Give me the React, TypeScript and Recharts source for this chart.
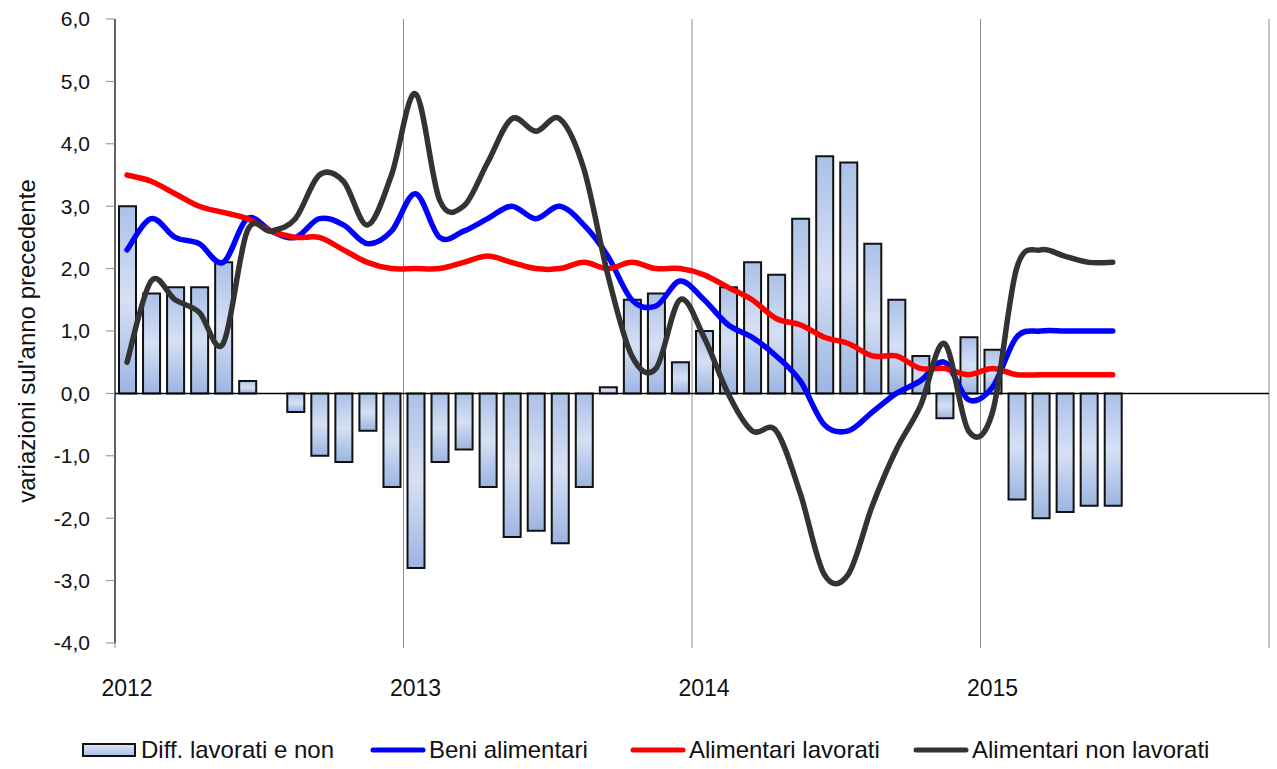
import React from 'react';
import { Bar, CartesianGrid, ComposedChart, Legend, Line, ReferenceLine, XAxis, YAxis } from 'recharts';

// mesi da gennaio 2012 a giugno 2015
const months = [
  'gen 12', 'feb 12', 'mar 12', 'apr 12', 'mag 12', 'giu 12', 'lug 12', 'ago 12', 'set 12', 'ott 12', 'nov 12', 'dic 12',
  'gen 13', 'feb 13', 'mar 13', 'apr 13', 'mag 13', 'giu 13', 'lug 13', 'ago 13', 'set 13', 'ott 13', 'nov 13', 'dic 13',
  'gen 14', 'feb 14', 'mar 14', 'apr 14', 'mag 14', 'giu 14', 'lug 14', 'ago 14', 'set 14', 'ott 14', 'nov 14', 'dic 14',
  'gen 15', 'feb 15', 'mar 15', 'apr 15', 'mag 15', 'giu 15',
];

const diffLavoratiNon = [
  3.0, 1.6, 1.7, 1.7, 2.1, 0.2, 0.0, -0.3, -1.0, -1.1, -0.6, -1.5,
  -2.8, -1.1, -0.9, -1.5, -2.3, -2.2, -2.4, -1.5, 0.1, 1.5, 1.6, 0.5,
  1.0, 1.7, 2.1, 1.9, 2.8, 3.8, 3.7, 2.4, 1.5, 0.6, -0.4, 0.9,
  0.7, -1.7, -2.0, -1.9, -1.8, -1.8,
];

const beniAlimentari = [
  2.3, 2.8, 2.5, 2.4, 2.1, 2.8, 2.6, 2.5, 2.8, 2.7, 2.4, 2.6,
  3.2, 2.5, 2.6, 2.8, 3.0, 2.8, 3.0, 2.7, 2.2, 1.5, 1.4, 1.8,
  1.5, 1.1, 0.9, 0.6, 0.2, -0.5, -0.6, -0.3, 0.0, 0.2, 0.5, -0.1,
  0.1, 0.9, 1.0, 1.0, 1.0, 1.0,
];

const alimentariLavorati = [
  3.5, 3.4, 3.2, 3.0, 2.9, 2.8, 2.6, 2.5, 2.5, 2.3, 2.1, 2.0,
  2.0, 2.0, 2.1, 2.2, 2.1, 2.0, 2.0, 2.1, 2.0, 2.1, 2.0, 2.0,
  1.9, 1.7, 1.5, 1.2, 1.1, 0.9, 0.8, 0.6, 0.6, 0.4, 0.4, 0.3,
  0.4, 0.3, 0.3, 0.3, 0.3, 0.3,
];

const alimentariNonLavorati = [
  0.5, 1.8, 1.5, 1.3, 0.8, 2.6, 2.6, 2.8, 3.5, 3.4, 2.7, 3.5,
  4.8, 3.1, 3.0, 3.7, 4.4, 4.2, 4.4, 3.6, 1.9, 0.6, 0.4, 1.5,
  0.9, 0.0, -0.6, -0.6, -1.6, -2.9, -2.9, -1.8, -0.9, -0.2, 0.8, -0.6,
  -0.3, 2.0, 2.3, 2.2, 2.1, 2.1,
];

const yearTicks = [0, 12, 24, 36, 48];
const yearLabels = ['2012', '2013', '2014', '2015'];
const valueTicks = [-4, -3, -2, -1, 0, 1, 2, 3, 4, 5, 6];

const data = months.map((month, i) => ({
   month,
   pos: i + 0.5,
   diff: diffLavoratiNon[i],
   beni: beniAlimentari[i],
   lav: alimentariLavorati[i],
   nonLav: alimentariNonLavorati[i],
}));

const FONT = "'Liberation Sans', Arial, sans-serif";

// linea "smussata" come in Excel (spline di Catmull-Rom passante per i punti)
const smoothCurve = (context: any) => {
   let pts: number[][] = [];
   return {
      areaStart() {},
      areaEnd() {},
      lineStart() {
         pts = [];
      },
      point(x: number, y: number) {
         pts.push([+x, +y]);
      },
      lineEnd() {
         if (!pts.length) return;
         context.moveTo(pts[0][0], pts[0][1]);
         for (let i = 0; i < pts.length - 1; i++) {
            const p0 = pts[i - 1] || pts[i];
            const p1 = pts[i];
            const p2 = pts[i + 1];
            const p3 = pts[i + 2] || p2;
            context.bezierCurveTo(
               p1[0] + (p2[0] - p0[0]) / 6,
               p1[1] + (p2[1] - p0[1]) / 6,
               p2[0] - (p3[0] - p1[0]) / 6,
               p2[1] - (p3[1] - p1[1]) / 6,
               p2[0],
               p2[1],
            );
         }
      },
   };
};

const YearTick = (props: any) => {
   const { x, y, index, width } = props;
   const label = yearLabels[index];
   if (!label) return <g />;
   const half = (width || 1154) / 48 / 2;
   return (
      <text x={x + half} y={y} dy="0.71em" textAnchor="middle" fontSize={23} fill="#111">
         {label}
      </text>
   );
};

const YLabel = (props: any) => {
   const vb = props.viewBox || { x: 0, y: 19, width: 115, height: 624 };
   const cx = vb.x + 26;
   const cy = vb.y + vb.height / 2 + 10;
   return (
      <text x={cx} y={cy} transform={`rotate(-90, ${cx}, ${cy})`} textAnchor="middle" dominantBaseline="central" fontSize={24} fill="#111">
         variazioni sul'anno precedente
      </text>
   );
};

const legendItems = [
   { label: 'Diff. lavorati e non', color: '', left: 82 },
   { label: 'Beni alimentari', color: '#0000ff', left: 370 },
   { label: 'Alimentari lavorati', color: '#ff0000', left: 630 },
   { label: 'Alimentari non lavorati', color: '#333333', left: 913 },
];

const renderLegend = () => (
   <div style={{ position: 'relative', height: 40, fontFamily: FONT, fontSize: 24, color: '#111' }}>
      {legendItems.map((item) => (
         <div key={item.label} style={{ position: 'absolute', left: item.left, top: 9, height: 24, display: 'flex', alignItems: 'center', whiteSpace: 'nowrap' }}>
            {item.color ? (
               <svg width={56} height={10} style={{ marginRight: 3 }}>
                  <line x1={3} y1={5} x2={53} y2={5} stroke={item.color} strokeWidth={5} strokeLinecap="round" />
               </svg>
            ) : (
               <svg width={54} height={14} style={{ marginRight: 5 }}>
                  <defs>
                     <linearGradient id="legendFill" x1="0" y1="0" x2="0" y2="1">
                        <stop offset="0%" stopColor="#dfe7f5" />
                        <stop offset="100%" stopColor="#a9c0e8" />
                     </linearGradient>
                  </defs>
                  <rect x={1} y={1} width={52} height={12} fill="url(#legendFill)" stroke="#111" strokeWidth={2} />
               </svg>
            )}
            <span>{item.label}</span>
         </div>
      ))}
   </div>
);

const App: React.FC = () => {
   return (
      <div style={{ position: 'absolute', left: 0, top: 0, width: 1277, height: 769, background: '#fff', fontFamily: FONT }}>
         <ComposedChart width={1277} height={769} data={data} margin={{ top: 19, right: 8, bottom: 0, left: 0 }}>
            <defs>
               <linearGradient id="barFill" x1="0" y1="0" x2="0" y2="1">
                  <stop offset="0%" stopColor="#abc1e8" />
                  <stop offset="50%" stopColor="#d6e0f3" />
                  <stop offset="100%" stopColor="#9bb5e2" />
               </linearGradient>
            </defs>

            <CartesianGrid horizontal={false} stroke="#8c8c8c" />

            <XAxis
               type="number"
               dataKey="pos"
               domain={[0, 48]}
               ticks={yearTicks}
               interval={0}
               axisLine={false}
               tickLine={{ stroke: '#8c8c8c' }}
               tickSize={5}
               tickMargin={32}
               tick={<YearTick />}
               height={86}
               allowDataOverflow
            />

            <YAxis
               type="number"
               domain={[-4, 6]}
               ticks={valueTicks}
               interval={0}
               width={115}
               tickSize={9}
               tickMargin={16}
               axisLine={{ stroke: '#000' }}
               tickLine={{ stroke: '#8c8c8c' }}
               tick={{ fontSize: 21, fill: '#111' }}
               tickFormatter={(v: number) => v.toFixed(1).replace('.', ',')}
               label={{ content: YLabel }}
               allowDataOverflow
            />

            <ReferenceLine y={0} stroke="#000" strokeWidth={1.5} />

            <Bar dataKey="diff" barSize={17} fill="url(#barFill)" stroke="#111" strokeWidth={2} isAnimationActive={false} />

            <Line type={smoothCurve as any} dataKey="beni" stroke="#0000ff" strokeWidth={5.5} strokeLinecap="round" dot={false} activeDot={false} isAnimationActive={false} />

            <Line type={smoothCurve as any} dataKey="lav" stroke="#ff0000" strokeWidth={5.5} strokeLinecap="round" dot={false} activeDot={false} isAnimationActive={false} />

            <Line type={smoothCurve as any} dataKey="nonLav" stroke="#333333" strokeWidth={5.5} strokeLinecap="round" dot={false} activeDot={false} isAnimationActive={false} />

            <Legend verticalAlign="bottom" height={40} content={renderLegend} />
         </ComposedChart>
      </div>
   );
};

export default App;
